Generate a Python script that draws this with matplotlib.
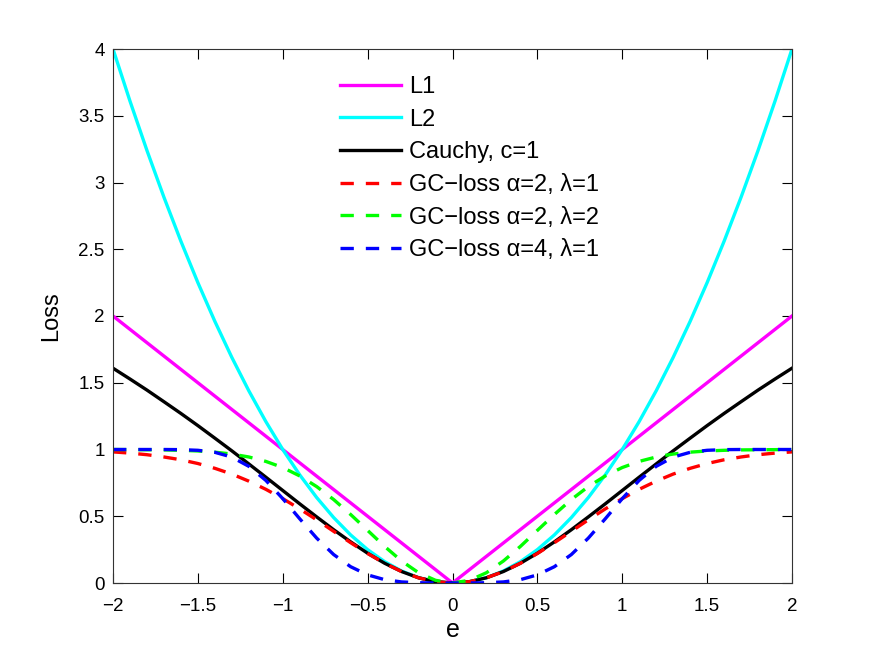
import matplotlib
matplotlib.use("Agg")
import matplotlib.pyplot as plt

plt.rcParams['font.family'] = ['Liberation Sans', 'DejaVu Sans']

e = [-2.0, -1.9, -1.8, -1.7, -1.6, -1.5, -1.4, -1.3, -1.2, -1.1, -1.0,
     -0.9, -0.8, -0.7, -0.6, -0.5, -0.4, -0.3, -0.2, -0.1, 0.0,
     0.1, 0.2, 0.3, 0.4, 0.5, 0.6, 0.7, 0.8, 0.9, 1.0,
     1.1, 1.2, 1.3, 1.4, 1.5, 1.6, 1.7, 1.8, 1.9, 2.0]

l1 = [2.0, 1.9, 1.8, 1.7, 1.6, 1.5, 1.4, 1.3, 1.2, 1.1, 1.0,
      0.9, 0.8, 0.7, 0.6, 0.5, 0.4, 0.3, 0.2, 0.1, 0.0,
      0.1, 0.2, 0.3, 0.4, 0.5, 0.6, 0.7, 0.8, 0.9, 1.0,
      1.1, 1.2, 1.3, 1.4, 1.5, 1.6, 1.7, 1.8, 1.9, 2.0]

l2 = [4.0, 3.61, 3.24, 2.89, 2.56, 2.25, 1.96, 1.69, 1.44, 1.21, 1.0,
      0.81, 0.64, 0.49, 0.36, 0.25, 0.16, 0.09, 0.04, 0.01, 0.0,
      0.01, 0.04, 0.09, 0.16, 0.25, 0.36, 0.49, 0.64, 0.81, 1.0,
      1.21, 1.44, 1.69, 1.96, 2.25, 2.56, 2.89, 3.24, 3.61, 4.0]

cauchy = [1.609, 1.528, 1.445, 1.358, 1.270, 1.179, 1.085, 0.990, 0.892, 0.793, 0.693,
          0.593, 0.495, 0.399, 0.308, 0.223, 0.148, 0.086, 0.039, 0.010, 0.0,
          0.010, 0.039, 0.086, 0.148, 0.223, 0.308, 0.399, 0.495, 0.593, 0.693,
          0.793, 0.892, 0.990, 1.085, 1.179, 1.270, 1.358, 1.445, 1.528, 1.609]

gc_a2_l1 = [0.982, 0.973, 0.961, 0.944, 0.923, 0.895, 0.859, 0.816, 0.763, 0.702, 0.632,
            0.555, 0.473, 0.387, 0.302, 0.221, 0.148, 0.086, 0.039, 0.010, 0.0,
            0.010, 0.039, 0.086, 0.148, 0.221, 0.302, 0.387, 0.473, 0.555, 0.632,
            0.702, 0.763, 0.816, 0.859, 0.895, 0.923, 0.944, 0.961, 0.973, 0.982]

gc_a2_l2 = [1.000, 0.999, 0.998, 0.997, 0.994, 0.989, 0.980, 0.966, 0.944, 0.911, 0.865,
            0.802, 0.722, 0.625, 0.513, 0.394, 0.274, 0.165, 0.077, 0.020, 0.0,
            0.020, 0.077, 0.165, 0.274, 0.394, 0.513, 0.625, 0.722, 0.802, 0.865,
            0.911, 0.944, 0.966, 0.980, 0.989, 0.994, 0.997, 0.998, 0.999, 1.000]

gc_a4_l1 = [1.000, 1.000, 1.000, 1.000, 0.999, 0.994, 0.979, 0.943, 0.874, 0.769, 0.632,
            0.481, 0.336, 0.213, 0.122, 0.061, 0.025, 0.008, 0.002, 0.000, 0.0,
            0.000, 0.002, 0.008, 0.025, 0.061, 0.122, 0.213, 0.336, 0.481, 0.632,
            0.769, 0.874, 0.943, 0.979, 0.994, 0.999, 1.000, 1.000, 1.000, 1.000]

labels = ['L1', 'L2', 'Cauchy, c=1', 'GC\u2212loss \u03b1=2, \u03bb=1',
          'GC\u2212loss \u03b1=2, \u03bb=2', 'GC\u2212loss \u03b1=4, \u03bb=1']

xticks = [-2, -1.5, -1, -0.5, 0, 0.5, 1, 1.5, 2]
xticklabels = ['\u22122', '\u22121.5', '\u22121', '\u22120.5', '0', '0.5', '1', '1.5', '2']
yticks = [0, 0.5, 1, 1.5, 2, 2.5, 3, 3.5, 4]
yticklabels = ['0', '0.5', '1', '1.5', '2', '2.5', '3', '3.5', '4']

fig = plt.figure(figsize=(8.73, 6.57), dpi=100)
ax = fig.add_axes([113/873, 74/657, 679/873, 534/657])

lw = 2.4
dash = (0, (4, 3.6))
ax.plot(e, l1, color=(1, 0, 1), lw=lw, label=labels[0])
ax.plot(e, l2, color=(0, 1, 1), lw=lw, label=labels[1])
ax.plot(e, cauchy, color='black', lw=lw, label=labels[2])
ax.plot(e, gc_a2_l1, color='red', lw=lw, ls=dash, label=labels[3])
ax.plot(e, gc_a2_l2, color=(0, 1, 0), lw=lw, ls=dash, label=labels[4])
ax.plot(e, gc_a4_l1, color='blue', lw=lw, ls=dash, label=labels[5])

ax.set_xlim(-2, 2)
ax.set_ylim(0, 4)
ax.set_xticks(xticks)
ax.set_xticklabels(xticklabels)
ax.set_yticks(yticks)
ax.set_yticklabels(yticklabels)
ax.tick_params(direction='in', length=7, labelsize=13.5, top=True, right=True)
ax.tick_params(axis='x', pad=11)
ax.tick_params(axis='y', pad=6)
for s in ax.spines.values():
    s.set_color('#333333')
    s.set_linewidth(0.8)
ax.set_xlabel('e', fontsize=18, labelpad=2)
ax.set_ylabel('Loss', fontsize=17, labelpad=12)

leg = ax.legend(loc='upper left', bbox_to_anchor=(218/679, 0.967), frameon=False,
                fontsize=17, handlelength=2.55, handletextpad=0.36, labelspacing=0.45,
                borderaxespad=0.0)

fig.savefig('out.png', dpi=100)
